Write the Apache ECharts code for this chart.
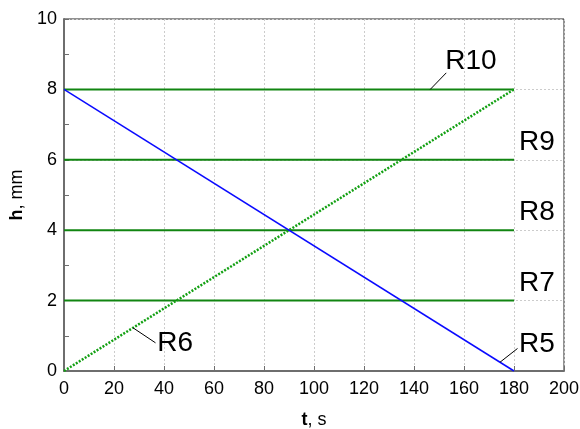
<!DOCTYPE html>
<html>
<head>
<meta charset="utf-8">
<script src="https://cdn.jsdelivr.net/npm/echarts@6/dist/echarts.min.js"></script>
<style>
  html, body { margin: 0; padding: 0; background: #fff; }
  #chart { width: 580px; height: 429px; }
</style>
</head>
<body>
<div id="chart"></div>
<script>
// Time points (s) shared by every run
var timeS = [0, 180];
// Water level h (mm) for each run
var r5 = [8, 0];
var r6 = [0, 8];
var r7 = [2, 2];
var r8 = [4, 4];
var r9 = [6, 6];
var r10 = [8, 8];
var runNames = ['R5', 'R6', 'R7', 'R8', 'R9', 'R10'];
var xTicks = [0, 20, 40, 60, 80, 100, 120, 140, 160, 180, 200];
var yTicks = [0, 2, 4, 6, 8, 10];

var FONT = '"Liberation Sans", Arial, sans-serif';
var GREEN = '#118511';

function pairs(ys) {
  return timeS.map(function (t, i) { return [t, ys[i]]; });
}

var chart = echarts.init(document.getElementById('chart'), null, { renderer: 'canvas' });

var gridLine = { show: true, lineStyle: { color: '#cccccc', width: 1, type: [2, 2] } };
var titleRich = {
  b: { fontFamily: FONT, fontSize: 18, fontWeight: 'bold', color: '#000' },
  n: { fontFamily: FONT, fontSize: 18, fontWeight: 'normal', color: '#000' }
};

var option = {
  animation: false,
  backgroundColor: '#fff',
  grid: {
    left: 64, right: 16, top: 19, bottom: 58,
    outerBoundsMode: 'none', containLabel: false,
    show: true, borderColor: '#222', borderWidth: 1, backgroundColor: 'transparent'
  },
  xAxis: {
    type: 'value',
    min: xTicks[0], max: xTicks[xTicks.length - 1], interval: 20,
    name: '{b|t}{n|, s}',
    nameLocation: 'middle', nameGap: 40,
    nameTextStyle: { fontFamily: FONT, fontSize: 18, color: '#000', rich: titleRich },
    axisLine: { show: true, lineStyle: { color: '#6e6e6e', width: 2 } },
    axisTick: { show: true, inside: true, length: 5, lineStyle: { color: '#6e6e6e', width: 1 } },
    axisLabel: { fontFamily: FONT, fontSize: 18, color: '#000', margin: 9 },
    splitLine: gridLine
  },
  yAxis: {
    type: 'value',
    min: yTicks[0], max: yTicks[yTicks.length - 1], interval: 2,
    name: '{b|h}{n|, mm}',
    nameLocation: 'middle', nameGap: 37, nameRotate: 90,
    nameTextStyle: { fontFamily: FONT, fontSize: 18, color: '#000', rich: titleRich },
    axisLine: { show: true, lineStyle: { color: '#6e6e6e', width: 2 } },
    axisTick: { show: true, inside: true, length: 5, lineStyle: { color: '#6e6e6e', width: 1 } },
    minorTick: { show: true, splitNumber: 2, length: 5, lineStyle: { color: '#6e6e6e', width: 1 } },
    axisLabel: { fontFamily: FONT, fontSize: 18, color: '#000', margin: 7 },
    splitLine: gridLine
  },
  series: [
    { name: runNames[2], type: 'line', data: pairs(r7), showSymbol: false, lineStyle: { color: GREEN, width: 2 }, z: 2 },
    { name: runNames[3], type: 'line', data: pairs(r8), showSymbol: false, lineStyle: { color: GREEN, width: 2 }, z: 2 },
    { name: runNames[4], type: 'line', data: pairs(r9), showSymbol: false, lineStyle: { color: GREEN, width: 2 }, z: 2 },
    { name: runNames[5], type: 'line', data: pairs(r10), showSymbol: false, lineStyle: { color: GREEN, width: 2 }, z: 2 },
    { name: runNames[1], type: 'line', data: pairs(r6), showSymbol: false, lineStyle: { color: '#12a012', width: 2.5, type: [2, 1.5] }, z: 3 },
    { name: runNames[0], type: 'line', data: pairs(r5), showSymbol: false, lineStyle: { color: '#0a0aff', width: 1.5 }, z: 4 }
  ]
};
chart.setOption(option);

// Callout labels: anchor (t on the run's line), leader end and text position in data units
function levelAt(ys, t) {
  return ys[0] + (ys[1] - ys[0]) * (t - timeS[0]) / (timeS[1] - timeS[0]);
}
var callouts = [
  { name: runNames[5], ys: r10, at: 146.5, tip: [152.9, 8.47], text: [152.5, 8.8] },
  { name: runNames[4], ys: null, text: [182, 6.5] },
  { name: runNames[3], ys: null, text: [182, 4.5] },
  { name: runNames[2], ys: null, text: [182, 2.48] },
  { name: runNames[1], ys: r6, at: 27.6, tip: [36.6, 0.8], text: [37.3, 0.8] },
  { name: runNames[0], ys: r5, at: 174.4, tip: [181.4, 0.64], text: [182, 0.76] }
];

var graphics = [];
callouts.forEach(function (c) {
  if (c.ys) {
    var a = chart.convertToPixel({ gridIndex: 0 }, [c.at, levelAt(c.ys, c.at)]);
    var b = chart.convertToPixel({ gridIndex: 0 }, c.tip);
    graphics.push({
      type: 'line', z: 10,
      shape: { x1: a[0], y1: a[1], x2: b[0], y2: b[1] },
      style: { stroke: '#000', lineWidth: 1 }
    });
  }
  var p = chart.convertToPixel({ gridIndex: 0 }, c.text);
  graphics.push({
    type: 'text', z: 10, x: p[0], y: p[1],
    style: {
      text: c.name, fill: '#000', font: '28px ' + FONT,
      align: 'left', verticalAlign: 'middle'
    }
  });
});
chart.setOption({ graphic: graphics });
</script>
</body>
</html>
